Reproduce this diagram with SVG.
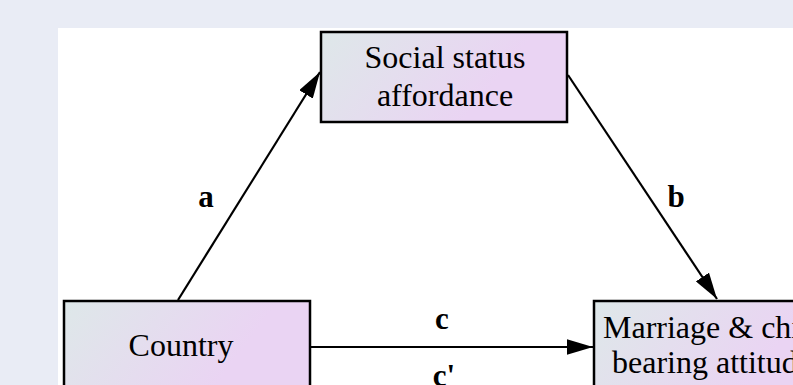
<svg xmlns="http://www.w3.org/2000/svg" width="793" height="385" viewBox="0 0 793 385">
<defs>
<style>
.node rect{stroke:#000;stroke-width:2.5;fill:url(#g)}
.lbl{font-family:"Liberation Serif","Times New Roman",serif;font-size:32px;fill:#000}
.elbl{font-family:"Liberation Serif","Times New Roman",serif;font-size:31px;font-weight:bold;fill:#000;text-anchor:middle}
.edge{stroke:#000;stroke-width:2.2;fill:none;marker-end:url(#arr)}
</style>
<linearGradient id="g" x1="0" y1="0" x2="1" y2="0.3">
<stop offset="0" stop-color="#dee8e9"/>
<stop offset="0.8" stop-color="#ead4f3"/>
<stop offset="1" stop-color="#ead4f3"/>
</linearGradient>
<marker id="arr" viewBox="0 0 12 7.2" refX="12" refY="3.6" markerWidth="12" markerHeight="7.2" orient="auto" markerUnits="strokeWidth">
<path d="M0,0 L12,3.6 L0,7.2 Z" fill="#000"/>
</marker>
</defs>
<rect width="793" height="385" fill="#e9ecf5"/>
<rect x="58" y="28" width="735" height="357" fill="#fff"/>
<g id="edges">
<line class="edge" x1="178" y1="300" x2="320" y2="72"/>
<line class="edge" x1="568" y1="75" x2="717" y2="299"/>
<line class="edge" x1="310" y1="347" x2="593" y2="347"/>
<text class="elbl" x="206" y="207">a</text>
<text class="elbl" x="676" y="207">b</text>
<text class="elbl" x="442" y="329">c</text>
<text class="elbl" x="444" y="386">c'</text>
</g>
<g id="social" class="node">
<rect x="321" y="32" width="246" height="90"/>
<text class="lbl" x="445" y="68" text-anchor="middle">Social status</text>
<text class="lbl" x="445" y="105.5" text-anchor="middle">affordance</text>
</g>
<g id="country" class="node">
<rect x="64" y="301" width="246" height="100"/>
<text class="lbl" x="181" y="356" text-anchor="middle">Country</text>
</g>
<g id="marriage" class="node">
<rect x="594" y="301" width="250" height="100"/>
<text class="lbl" x="603" y="338">Marriage &amp; child-</text>
<text class="lbl" x="612" y="373">bearing attitudes</text>
</g>
</svg>
